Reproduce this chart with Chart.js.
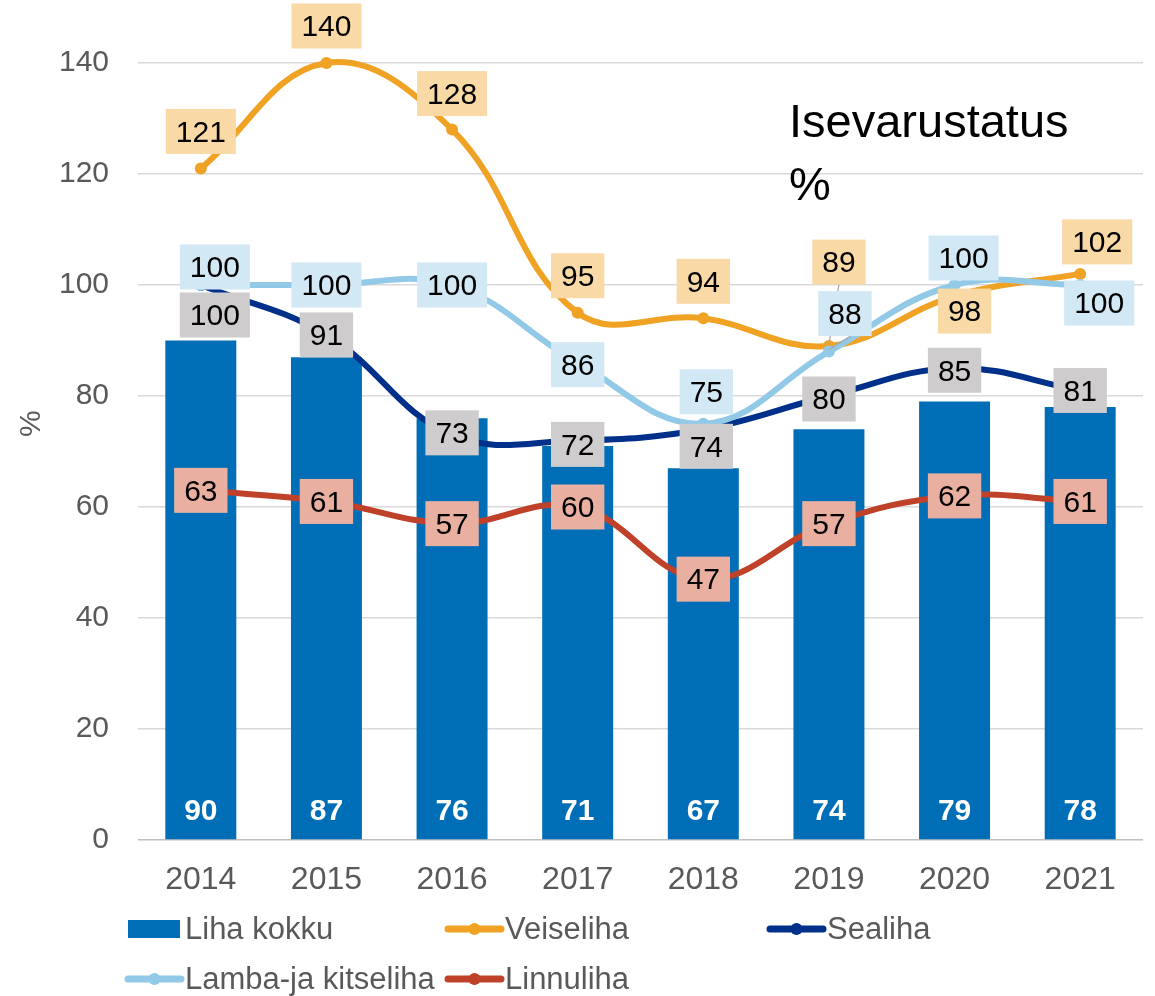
<!DOCTYPE html>
<html>
<head>
<meta charset="utf-8">
<script src="https://cdn.jsdelivr.net/npm/chart.js@4.4.1/dist/chart.umd.min.js"></script>
<style>
  html, body { margin: 0; padding: 0; background: #ffffff; }
  #wrap { width: 1155px; height: 996px; }
</style>
</head>
<body>
<div id="wrap"><canvas id="c" width="1155" height="996"></canvas></div>
<script>
// ---- data ----
const years = ['2014', '2015', '2016', '2017', '2018', '2019', '2020', '2021'];
const lihaKokku = [90, 87, 76, 71, 67, 74, 79, 78];
const veiseliha = [121, 140, 128, 95, 94, 89, 98, 102];
const sealiha = [100, 91, 73, 72, 74, 80, 85, 81];
const lambaKitseliha = [100, 100, 100, 86, 75, 88, 100, 100];
const linnuliha = [63, 61, 57, 60, 47, 57, 62, 61];
const yTicks = [0, 20, 40, 60, 80, 100, 120, 140];
const chartTitleLines = ['Isevarustatus', '%'];
const seriesNames = ['Liha kokku', 'Veiseliha', 'Sealiha', 'Lamba-ja kitseliha', 'Linnuliha'];

// ---- label placement (pixel offsets of label centre from the point) ----
const labelOffsets = {
  1: [[0,-37],[0,-37],[0,-36],[0,-37],[0,-37],[10,-84],[10,15],[17,-32]],
  2: [[14,30],[0,0],[0,-2],[0,4],[3,17],[0,3],[0,2],[0,0]],
  3: [[14,-18],[0,0],[0,0],[0,2],[3,-32],[16,-38],[9,-27],[19,18]],
  4: [[0,0],[0,0],[0,0],[0,0],[0,0],[0,0],[0,0],[0,0]]
};
const leaderLines = { 1: [5], 3: [5] };

const COL_BAR = '#006EB6';
const COL_VEIS = '#F0A224';
const COL_SEA = '#00308A';
const COL_LAMB = '#92C9E7';
const COL_LINN = '#BF4129';
const BG = { 1: '#F9DAA6', 2: '#CECCCD', 3: '#D3E8F5', 4: '#E9B0A2' };

const FONT = '"Liberation Sans", Arial, Helvetica, sans-serif';

const labelPlugin = {
  id: 'labels',
  afterDatasetsDraw(chart) {
    const ctx = chart.ctx;
    ctx.save();
    // bar labels
    const bm = chart.getDatasetMeta(0);
    ctx.font = 'bold 30px ' + FONT;
    ctx.fillStyle = '#FFFFFF';
    ctx.textAlign = 'center';
    ctx.textBaseline = 'middle';
    bm.data.forEach((el, i) => {
      ctx.fillText(String(chart.data.datasets[0].data[i]), el.x, el.base - 28);
    });
    // line labels
    [1, 2, 3, 4].forEach(di => {
      const meta = chart.getDatasetMeta(di);
      const vals = chart.data.datasets[di].data;
      meta.data.forEach((el, i) => {
        const off = labelOffsets[di][i];
        const cx = el.x + off[0];
        const cy = el.y + off[1];
        const txt = String(vals[i]);
        ctx.font = '30px ' + FONT;
        const w = ctx.measureText(txt).width + 20;
        const h = 45;
        if (leaderLines[di] && leaderLines[di].includes(i)) {
          ctx.strokeStyle = '#A6A6A6';
          ctx.lineWidth = 1.2;
          ctx.beginPath();
          ctx.moveTo(el.x, el.y - 2);
          ctx.lineTo(cx + (di === 1 ? 0 : 6), cy + h / 2);
          ctx.stroke();
        }
        ctx.fillStyle = BG[di];
        ctx.fillRect(cx - w / 2, cy - h / 2, w, h);
        ctx.fillStyle = '#000000';
        ctx.textAlign = 'center';
        ctx.textBaseline = 'middle';
        ctx.fillText(txt, cx, cy + 2);
      });
    });
    ctx.restore();
  },
  afterDraw(chart) {
    const ctx = chart.ctx;
    ctx.save();
    // in-plot title
    ctx.fillStyle = '#000000';
    ctx.font = '47px ' + FONT;
    ctx.textAlign = 'left';
    ctx.textBaseline = 'alphabetic';
    ctx.fillText(chartTitleLines[0], 789, 137);
    ctx.fillText(chartTitleLines[1], 789, 200);
    // legend
    const cols = [125, 445, 767];
    const rows = [929, 979];
    const items = [
      { t: seriesNames[0], c: COL_BAR, bar: true, col: 0, row: 0 },
      { t: seriesNames[1], c: COL_VEIS, col: 1, row: 0 },
      { t: seriesNames[2], c: COL_SEA, col: 2, row: 0 },
      { t: seriesNames[3], c: COL_LAMB, col: 0, row: 1 },
      { t: seriesNames[4], c: COL_LINN, col: 1, row: 1 }
    ];
    ctx.font = '31px ' + FONT;
    ctx.textBaseline = 'middle';
    items.forEach(it => {
      const x = cols[it.col];
      const y = rows[it.row];
      if (it.bar) {
        ctx.fillStyle = it.c;
        ctx.fillRect(x + 3, y - 9, 52, 18);
      } else {
        ctx.strokeStyle = it.c;
        ctx.lineWidth = 7;
        ctx.lineCap = 'round';
        ctx.beginPath();
        ctx.moveTo(x + 3, y);
        ctx.lineTo(x + 56, y);
        ctx.stroke();
        ctx.fillStyle = it.c;
        ctx.beginPath();
        ctx.arc(x + 29.5, y, 6, 0, Math.PI * 2);
        ctx.fill();
      }
      ctx.fillStyle = '#595959';
      ctx.textAlign = 'left';
      ctx.fillText(it.t, x + 60, y + 1);
    });
    ctx.restore();
  }
};

const lineDs = (label, data, color, order) => ({
  type: 'line',
  label,
  data,
  borderColor: color,
  backgroundColor: color,
  borderWidth: 6,
  pointRadius: 6,
  pointHoverRadius: 6,
  pointBackgroundColor: color,
  pointBorderWidth: 0,
  tension: 0.4,
  fill: false,
  order
});

new Chart(document.getElementById('c'), {
  data: {
    labels: years,
    datasets: [
      {
        type: 'bar',
        label: seriesNames[0],
        data: lihaKokku,
        backgroundColor: COL_BAR,
        borderWidth: 0,
        categoryPercentage: 1,
        barPercentage: 0.565,
        order: 5
      },
      lineDs(seriesNames[1], veiseliha, COL_VEIS, 4),
      lineDs(seriesNames[2], sealiha, COL_SEA, 3),
      lineDs(seriesNames[3], lambaKitseliha, COL_LAMB, 2),
      lineDs(seriesNames[4], linnuliha, COL_LINN, 1)
    ]
  },
  options: {
    responsive: false,
    animation: false,
    devicePixelRatio: 1,
    layout: { padding: { top: 7.5, right: 12, bottom: 96, left: 0 } },
    plugins: {
      legend: { display: false },
      tooltip: { enabled: false },
      title: { display: false }
    },
    scales: {
      x: {
        grid: { display: false, drawTicks: false },
        border: { display: false },
        ticks: {
          color: '#595959',
          font: { family: FONT, size: 32 },
          padding: 21,
          maxRotation: 0
        },
        afterFit(s) { s.height = 60; s.paddingLeft = 0; s.paddingRight = 0; }
      },
      y: {
        min: 0,
        max: 150,
        afterBuildTicks(s) { s.ticks = yTicks.map(v => ({ value: v })); },
        grid: {
          color: (c) => (c.tick && c.tick.value === 0 ? '#BFBFBF' : '#D9D9D9'),
          lineWidth: 1.5,
          drawTicks: false
        },
        border: { display: false },
        ticks: {
          color: '#595959',
          font: { family: FONT, size: 30 },
          padding: 29
        },
        title: {
          display: true,
          text: '%',
          color: '#595959',
          font: { family: FONT, size: 30 },
          padding: { top: 14, bottom: 0 }
        },
        afterFit(s) { s.width = 138; s.paddingTop = 0; s.paddingBottom = 0; }
      }
    }
  },
  plugins: [labelPlugin]
});
</script>
</body>
</html>
